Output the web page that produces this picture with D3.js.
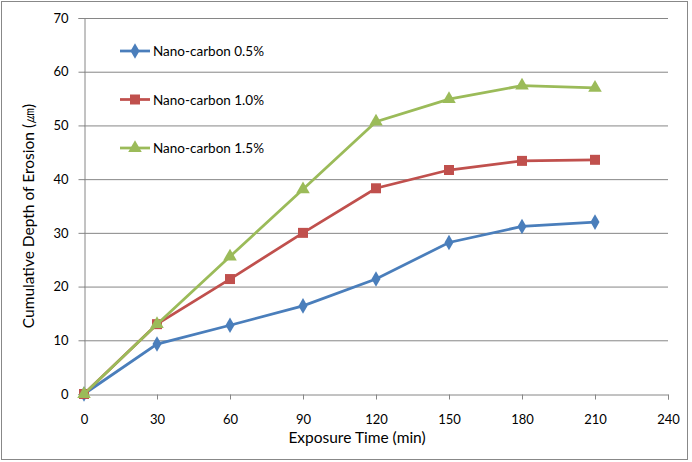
<!DOCTYPE html>
<html>
<head>
<meta charset="utf-8">
<script src="https://cdn.jsdelivr.net/npm/d3@7"></script>
<style>
  body { margin: 0; background: #fff; }
  svg text { font-family: Lato, "Open Sans", sans-serif; fill: #000; }
</style>
</head>
<body>
<svg></svg>
<script>
const size = {w: 692, h: 462};
const margin = {t: 18, r: 24, b: 68, l: 84};

// data
const times = [0, 30, 60, 90, 120, 150, 180, 210];
const nano05 = [0, 9.3, 12.8, 16.4, 21.4, 28.2, 31.2, 32.0];
const nano10 = [0, 13.0, 21.4, 30.0, 38.3, 41.7, 43.4, 43.6];
const nano15 = [0, 13.0, 25.6, 38.1, 50.7, 54.9, 57.4, 57.0];
const seriesNames = ['Nano-carbon 0.5%', 'Nano-carbon 1.0%', 'Nano-carbon 1.5%'];
const xTicks = [0, 30, 60, 90, 120, 150, 180, 210, 240];
const yTicks = [0, 10, 20, 30, 40, 50, 60, 70];

const series = [
    {name: seriesNames[0], values: nano05, color: '#4a7ebb', symbol: d3.symbolDiamond, size: 70},
    {name: seriesNames[1], values: nano10, color: '#c0504d', symbol: d3.symbolSquare, size: 100},
    {name: seriesNames[2], values: nano15, color: '#9bbb59', symbol: d3.symbolTriangle, size: 80}
];

const svg = d3.select('svg')
    .attr('width', size.w)
    .attr('height', size.h);

// outer chart border
svg.append('rect')
    .attr('x', 1.5).attr('y', 1.5)
    .attr('width', 686).attr('height', 458)
    .attr('fill', 'none')
    .attr('stroke', '#888');

const x = d3.scaleLinear().domain([0, 240]).range([margin.l, size.w - margin.r]);
const y = d3.scaleLinear().domain([0, 70]).range([size.h - margin.b, margin.t]);

const g = svg.append('g');

// gridlines
g.selectAll('line.grid')
    .data(yTicks.filter(d => d > 0))
    .join('line')
    .attr('x1', x(0)).attr('x2', x(240))
    .attr('y1', d => y(d) + 0.5).attr('y2', d => y(d) + 0.5)
    .attr('stroke', '#868686');

// x axis
const xAxis = g.append('g')
    .attr('transform', `translate(0,${y(0) + 0.5})`)
    .call(d3.axisBottom(x).tickValues(xTicks).tickSize(5).tickPadding(15));
xAxis.select('.domain').attr('stroke', '#868686');
xAxis.selectAll('.tick line').attr('stroke', '#868686');
xAxis.selectAll('text').style('font-size', '13px');

// y axis
const yAxis = g.append('g')
    .attr('transform', `translate(${x(0) + 0.5},0)`)
    .call(d3.axisLeft(y).tickValues(yTicks).tickSize(6).tickPadding(10));
yAxis.select('.domain').attr('stroke', '#868686');
yAxis.selectAll('.tick line').attr('stroke', '#868686');
yAxis.selectAll('text').style('font-size', '13px');

// axis titles
svg.append('text')
    .attr('x', (x(0) + x(240)) / 2 - 19)
    .attr('y', 443)
    .attr('text-anchor', 'middle')
    .style('font-size', '15.5px')
    .text('Exposure Time (min)');

svg.append('text')
    .attr('transform', `translate(34,${(y(0) + y(70)) / 2 + 10}) rotate(-90)`)
    .attr('text-anchor', 'middle')
    .style('font-size', '15.5px')
    .text('Cumulative Depth of Erosion (㎛)');

// lines and markers
const line = d3.line()
    .x((d, i) => x(times[i]))
    .y(d => y(d));

series.forEach(s => {
    g.append('path')
        .datum(s.values)
        .attr('d', line)
        .attr('fill', 'none')
        .attr('stroke', s.color)
        .attr('stroke-width', 2.75);

    g.selectAll(null)
        .data(s.values)
        .join('path')
        .attr('transform', (d, i) => `translate(${x(times[i])},${y(d)})`)
        .attr('d', d3.symbol().type(s.symbol).size(s.size))
        .attr('fill', s.color);
});

// legend
const legend = svg.append('g');
series.forEach((s, i) => {
    let ly = 51 + i * 48.5;
    legend.append('line')
        .attr('x1', 120).attr('x2', 150)
        .attr('y1', ly).attr('y2', ly)
        .attr('stroke', s.color)
        .attr('stroke-width', 2.75);
    legend.append('path')
        .attr('transform', `translate(135,${ly})`)
        .attr('d', d3.symbol().type(s.symbol).size(s.size))
        .attr('fill', s.color);
    legend.append('text')
        .attr('x', 153).attr('y', ly + 5)
        .style('font-size', '13.5px')
        .text(s.name);
});
</script>
</body>
</html>
